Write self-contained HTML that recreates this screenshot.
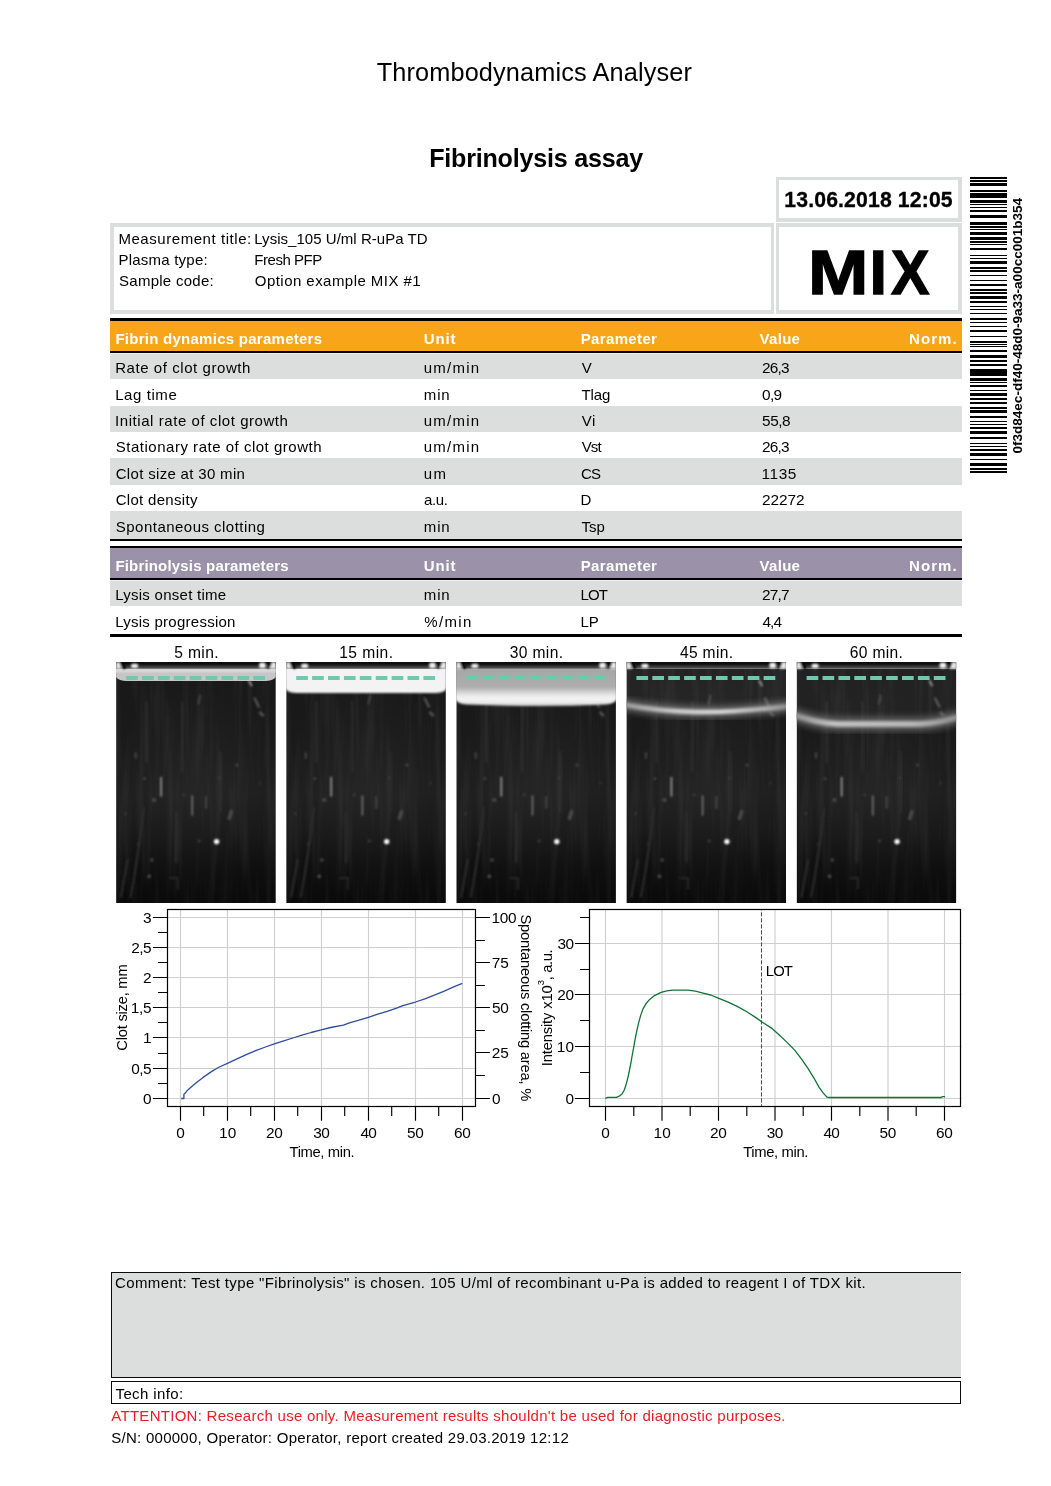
<!DOCTYPE html>
<html lang="en"><head><meta charset="utf-8"><title>Thrombodynamics Analyser - Fibrinolysis assay</title>
<style>
html,body{margin:0;padding:0;background:#fff;}
body{width:1051px;height:1486px;position:relative;overflow:hidden;font-family:"Liberation Sans", sans-serif;color:#000;}
.t{position:absolute;white-space:nowrap;line-height:1;}
.b{position:absolute;box-sizing:border-box;}
body>svg{position:absolute;left:0;top:0;}

</style></head><body>
<!-- header boxes -->
<div class="b" style="left:110px;top:223px;width:664px;height:91px;border:solid #dcdedd;border-width:4px 3px 4px 4px;"></div>
<div class="b" style="left:776px;top:177px;width:186px;height:45px;border:solid #dcdedd;border-width:3px 4px 4px 3px;"></div>
<div class="b" style="left:776px;top:223px;width:186px;height:91px;border:solid #dcdedd;border-width:4px 4px 4px 3px;"></div>
<!-- table 1 -->
<div class="b" style="left:110px;top:318px;width:852px;height:3px;background:#000;"></div>
<div class="b" style="left:110px;top:321px;width:852px;height:30px;background:#f9a51a;"></div>
<div class="b" style="left:110px;top:351px;width:852px;height:2px;background:#000;"></div>
<div class="b" style="left:110px;top:353px;width:852px;height:26px;background:#dcdedd;border-top:1px solid #edeeee;"></div>
<div class="b" style="left:110px;top:406px;width:852px;height:26px;background:#dcdedd;"></div>
<div class="b" style="left:110px;top:458px;width:852px;height:27px;background:#dcdedd;"></div>
<div class="b" style="left:110px;top:511px;width:852px;height:28px;background:#dcdedd;"></div>
<div class="b" style="left:110px;top:539px;width:852px;height:2px;background:#000;"></div>
<!-- table 2 -->
<div class="b" style="left:110px;top:546px;width:852px;height:2px;background:#000;"></div>
<div class="b" style="left:110px;top:548px;width:852px;height:30px;background:#9b91a9;"></div>
<div class="b" style="left:110px;top:578px;width:852px;height:2px;background:#000;"></div>
<div class="b" style="left:110px;top:580px;width:852px;height:26px;background:#dcdedd;border-top:1px solid #edeeee;"></div>
<div class="b" style="left:110px;top:634px;width:852px;height:3px;background:#000;"></div>
<!-- comment boxes -->
<div class="b" style="left:111px;top:1272px;width:850px;height:106px;border:solid #0a0a0a;border-width:1px 0 1px 1px;background:#dcdedd;"></div>
<div class="b" style="left:111px;top:1381px;width:850px;height:23px;border:1px solid #0a0a0a;background:#fff;"></div>
<!-- MIX label -->
<div class="t" style="left:0;top:241px;font-size:63px;font-weight:bold;-webkit-text-stroke:1.3px #000;"><span style="position:absolute;left:808.38px;top:0;transform-origin:0 0;transform:scaleX(1.15)">M</span><span style="position:absolute;left:869.48px;top:0">I</span><span style="position:absolute;left:890.89px;top:0;transform-origin:0 0;transform:scaleX(0.915)">X</span></div>

<svg width="1051" height="1486" viewBox="0 0 1051 1486" shape-rendering="crispEdges"><path d="M970 177h37v2h-37zM970 180h37v2h-37zM970 183h37v3h-37zM970 190h37v2h-37zM970 193h37v5h-37zM970 200h37v3h-37zM970 204h37v1h-37zM970 207h37v1h-37zM970 210h37v2h-37zM970 215h37v3h-37zM970 222h37v3h-37zM970 226h37v2h-37zM970 229h37v1h-37zM970 232h37v3h-37zM970 237h37v3h-37zM970 241h37v2h-37zM970 244h37v1h-37zM970 248h37v2h-37zM970 255h37v1h-37zM970 258h37v1h-37zM970 261h37v3h-37zM970 267h37v2h-37zM970 270h37v2h-37zM970 275h37v1h-37zM970 280h37v1h-37zM970 284h37v2h-37zM970 289h37v2h-37zM970 292h37v2h-37zM970 296h37v3h-37zM970 301h37v2h-37zM970 306h37v1h-37zM970 309h37v1h-37zM970 313h37v1h-37zM970 318h37v2h-37zM970 322h37v1h-37zM970 326h37v1h-37zM970 330h37v2h-37zM970 336h37v1h-37zM970 341h37v2h-37zM970 344h37v1h-37zM970 346h37v1h-37zM970 350h37v2h-37zM970 355h37v3h-37zM970 360h37v2h-37zM970 364h37v2h-37zM970 369h37v7h-37zM970 378h37v3h-37zM970 382h37v1h-37zM970 385h37v2h-37zM970 390h37v1h-37zM970 393h37v3h-37zM970 398h37v2h-37zM970 402h37v2h-37zM970 407h37v2h-37zM970 410h37v3h-37zM970 416h37v2h-37zM970 421h37v1h-37zM970 424h37v1h-37zM970 427h37v2h-37zM970 431h37v3h-37zM970 437h37v2h-37zM970 443h37v1h-37zM970 446h37v1h-37zM970 449h37v2h-37zM970 453h37v3h-37zM970 459h37v1h-37zM970 463h37v3h-37zM970 468h37v2h-37zM970 471h37v2h-37z" fill="#000"/></svg>

<svg width="1051" height="1486" viewBox="0 0 1051 1486">
<defs>
<linearGradient id="bg" x1="0" y1="0" x2="0" y2="1">
<stop offset="0" stop-color="#181818"/><stop offset="0.3" stop-color="#1a1a1a"/><stop offset="0.55" stop-color="#1e1e1e"/><stop offset="0.72" stop-color="#171717"/><stop offset="0.85" stop-color="#0f0f0f"/><stop offset="1" stop-color="#0a0a0a"/></linearGradient>
<radialGradient id="glow" cx="0.5" cy="0.52" r="0.5"><stop offset="0" stop-color="#fff" stop-opacity="0.035"/><stop offset="1" stop-color="#fff" stop-opacity="0"/></radialGradient>
<linearGradient id="strip" x1="0" y1="0" x2="0" y2="1"><stop offset="0" stop-color="#0a0a0a"/><stop offset="0.3" stop-color="#101010"/><stop offset="0.55" stop-color="#2e2e2e"/><stop offset="0.8" stop-color="#4a4a4a"/><stop offset="1" stop-color="#8c8c8c"/></linearGradient>
<linearGradient id="hb4" x1="0" y1="0" x2="1" y2="0"><stop offset="0" stop-color="#9a9a9a"/><stop offset="0.3" stop-color="#d0d0d0"/><stop offset="0.6" stop-color="#dedede"/><stop offset="0.85" stop-color="#b4b4b4"/><stop offset="1" stop-color="#8c8c8c"/></linearGradient>
<linearGradient id="hb5" x1="0" y1="0" x2="1" y2="0"><stop offset="0" stop-color="#8c8c8c"/><stop offset="0.25" stop-color="#c6c6c6"/><stop offset="0.7" stop-color="#bcbcbc"/><stop offset="1" stop-color="#8a8a8a"/></linearGradient>
<filter id="tex" x="0" y="0" width="100%" height="100%"><feTurbulence type="fractalNoise" baseFrequency="0.14 0.009" numOctaves="3" seed="11" result="n"/><feColorMatrix type="matrix" values="0 0 0 0 1  0 0 0 0 1  0 0 0 0 1  1.8 0 0 0 -0.72"/></filter>
<filter id="b05" x="-30%" y="-30%" width="160%" height="160%"><feGaussianBlur stdDeviation="0.9"/></filter>
<filter id="b07" x="-20%" y="-50%" width="140%" height="200%"><feGaussianBlur stdDeviation="0.75"/></filter>
<filter id="b1" x="-20%" y="-50%" width="140%" height="200%"><feGaussianBlur stdDeviation="1.2"/></filter>
<filter id="b1b" x="-20%" y="-100%" width="140%" height="300%"><feGaussianBlur stdDeviation="1.6"/></filter>
<filter id="b2" x="-20%" y="-50%" width="140%" height="200%"><feGaussianBlur stdDeviation="2.2"/></filter>
<filter id="b3" x="-20%" y="-100%" width="140%" height="300%"><feGaussianBlur stdDeviation="3.5"/></filter>
<linearGradient id="g3" x1="0" y1="0" x2="0" y2="1"><stop offset="0.2" stop-color="#a6a6a6"/><stop offset="0.6" stop-color="#aeaeae"/><stop offset="0.73" stop-color="#dcdcdc"/><stop offset="0.83" stop-color="#f4f4f4"/><stop offset="0.92" stop-color="#ececec"/><stop offset="1" stop-color="#c0c0c0"/></linearGradient>
<g id="common">
<rect x="0" y="0" width="160" height="241" fill="url(#bg)"/>
<rect x="0" y="0" width="160" height="241" fill="url(#glow)"/>
<rect x="0" y="0" width="160" height="241" fill="#fff" opacity="0.06" filter="url(#tex)"/>
<g fill="none" stroke-linecap="round" filter="url(#b05)">
<path d="M45 115.5v18.5" stroke="#a8a8a8" stroke-width="1.5"/>
<path d="M76.2 134v19" stroke="#808080" stroke-width="1.4"/>
<path d="M90 135v11M84 33.5l-1.5 8M19.5 91v5" stroke="#4a4a4a" stroke-width="1.8"/>
<path d="M133 19l2.4 4.5" stroke="#9a9a9a" stroke-width="1.8"/>
<path d="M138.6 36.5l4 8M143.8 50.5l3.2 3" stroke="#555" stroke-width="2.4"/>
<path d="M115.3 149.5l-2.2 7" stroke="#4c4c4c" stroke-width="3.4"/>
<path d="M27.5 146q-4 40 -13 89M11.3 198l-6.4 37M66 40v70M104 90v60M60 150v50M30 40v60" stroke="#2d2d2d" stroke-width="2"/>
<path d="M53.5 216h8v11" stroke="#2e2e2e" stroke-width="1.6"/>
</g>
<g filter="url(#b05)"><circle cx="38" cy="138" r="2.1" fill="#4c4c4c"/><circle cx="28.4" cy="116.4" r="1.5" fill="#444"/><circle cx="120.8" cy="103" r="1.5" fill="#484848"/><circle cx="103" cy="116" r="1.2" fill="#404040"/><circle cx="68" cy="133" r="1.3" fill="#404040"/><circle cx="83" cy="179" r="1.5" fill="#404040"/><circle cx="35.7" cy="198" r="1.7" fill="#4c4c4c"/><circle cx="33" cy="214.3" r="1.7" fill="#555"/><circle cx="9.2" cy="151.6" r="1.2" fill="#444"/><circle cx="22" cy="182" r="1.5" fill="#333"/><circle cx="144" cy="121" r="1.4" fill="#333"/></g>
<circle cx="100.5" cy="179.6" r="2.7" fill="#fff" filter="url(#b05)"/>
</g>
<g id="topstrip">
<rect x="0" y="0" width="160" height="7" fill="url(#strip)"/>
<g filter="url(#b05)">

<path d="M0 0h3.6l1.8 6.8h-5.4z" fill="#ededed"/><path d="M160 0h-5.5l-1.6 6.8h7.1z" fill="#ededed"/>
<rect x="15" y="1.8" width="7" height="4.2" rx="1.8" fill="#f4f4f4"/><rect x="143" y="0.6" width="6.6" height="5.6" rx="2" fill="#f0f0f0"/>
<path d="M4.5 0.5l4.5 6" stroke="#000" stroke-width="3"/><path d="M155 0.5l-3 6" stroke="#000" stroke-width="2.4"/>
</g>
</g>
<path id="dash" d="M10 15.9h140" stroke="#6ccaae" stroke-width="4" stroke-dasharray="11.7 4.2" fill="none"/>
</defs>
<svg x="116.1" y="662" width="159.6" height="241" viewBox="0 0 159.6 241" overflow="hidden"><use href="#common"/><path d="M-2 -3h163.6v11.5q-0.6 10.5 -12 10.5h-139.6q-11.4 0 -12 -10.5z" fill="#c6c6c6" filter="url(#b07)"/><rect x="-2" y="7" width="164" height="3" fill="#dcdcdc" filter="url(#b05)"/><use href="#topstrip"/><use href="#dash"/></svg>
<svg x="286.2" y="662" width="159.6" height="241" viewBox="0 0 159.6 241" overflow="hidden"><use href="#common"/><path d="M-2 -3h163.6v27q-1 7 -12 7h-139.6q-11 0 -12 -7z" fill="#f3f3f3" filter="url(#b1)"/><use href="#topstrip"/><use href="#dash"/></svg>
<svg x="456.3" y="662" width="159.6" height="241" viewBox="0 0 159.6 241" overflow="hidden"><use href="#common"/><path d="M-2 -3h163.6v38q-1 6.5 -12 7.6q-68 3 -139.6 0q-11 -1.1 -12 -7.6z" fill="url(#g3)" filter="url(#b1)"/><use href="#topstrip"/><use href="#dash"/></svg>
<svg x="626.4" y="662" width="159.6" height="241" viewBox="0 0 159.6 241" overflow="hidden"><use href="#common"/><rect x="-3" y="5" width="166" height="42" fill="#fff" opacity="0.05" filter="url(#b2)"/><path d="M-4 42.4C20 47 40 49.5 70 50S130 48.2 164 44" stroke="#8a8a8a" stroke-width="11" fill="none" filter="url(#b3)" opacity="0.7"/><path d="M-4 42.4C20 47 40 49.5 70 50S130 48.2 164 44" stroke="url(#hb4)" stroke-width="4.4" fill="none" filter="url(#b1b)"/><use href="#topstrip"/><use href="#dash"/></svg>
<svg x="796.6" y="662" width="159.6" height="241" viewBox="0 0 159.6 241" overflow="hidden"><use href="#common"/><rect x="-3" y="5" width="166" height="52" fill="#fff" opacity="0.04" filter="url(#b2)"/><path d="M-4 52.6C10 57 22 61.3 42 62L122 62C140 61.5 152 58.5 164 54" stroke="#808080" stroke-width="13" fill="none" filter="url(#b3)" opacity="0.7"/><path d="M-4 52.6C10 57 22 61.3 42 62L122 62C140 61.5 152 58.5 164 54" stroke="url(#hb5)" stroke-width="5.6" fill="none" filter="url(#b1b)"/><use href="#topstrip"/><use href="#dash"/></svg>
</svg>

<svg width="1051" height="1486" viewBox="0 0 1051 1486">
<path d="M180.5 909.5V1106.5M227.5 909.5V1106.5M274.5 909.5V1106.5M321.5 909.5V1106.5M368.5 909.5V1106.5M415.5 909.5V1106.5M462.5 909.5V1106.5M167.5 1098.5H476.7M167.5 1068.5H476.7M167.5 1037.5H476.7M167.5 1007.5H476.7M167.5 977.5H476.7M167.5 947.5H476.7M167.5 917.5H476.7" stroke="#cfcfcf" stroke-width="1.15" fill="none"/>
<path d="M152.9 1098.5H167.5M158.0 1083.5H167.5M152.9 1068.5H167.5M158.0 1053.5H167.5M152.9 1037.5H167.5M158.0 1022.5H167.5M152.9 1007.5H167.5M158.0 992.5H167.5M152.9 977.5H167.5M158.0 962.5H167.5M152.9 947.5H167.5M158.0 932.5H167.5M152.9 917.5H167.5M475.5 1098.5H489.9M475.5 1075.5H484.9M475.5 1052.5H489.9M475.5 1030.5H484.9M475.5 1007.5H489.9M475.5 985.5H484.9M475.5 962.5H489.9M475.5 940.5H484.9M475.5 917.5H489.9M180.5 1106.5V1120.8M203.7 1106.5V1115.9M227.5 1106.5V1120.8M250.7 1106.5V1115.9M274.5 1106.5V1120.8M297.7 1106.5V1115.9M321.5 1106.5V1120.8M344.7 1106.5V1115.9M368.5 1106.5V1120.8M391.7 1106.5V1115.9M415.5 1106.5V1120.8M438.7 1106.5V1115.9M462.5 1106.5V1120.8" stroke="#000" stroke-width="1.15" fill="none"/>
<rect x="167.5" y="909.5" width="308.0" height="197.0" fill="none" stroke="#000" stroke-width="1.2"/>
<polyline points="181.2,1098.5 183.9,1098.5 183.9,1094.4 185.0,1093.3 187.8,1089.9 193.2,1085.3 198.5,1080.9 203.1,1077.4 210.7,1072.1 218.3,1067.5 227.4,1063.4 236.5,1059.1 245.7,1054.9 256.3,1050.3 265.5,1047.0 274.3,1043.9 283.7,1040.9 294.4,1037.5 302.0,1035.2 311.1,1032.5 321.3,1029.9 330.7,1027.5 343.3,1025.2 349.5,1022.8 359.0,1020.2 368.4,1017.3 377.8,1014.2 387.2,1011.4 396.6,1008.2 402.9,1005.6 415.5,1002.0 424.9,998.8 434.3,995.1 443.7,991.4 453.1,987.2 462.3,983.3" fill="none" stroke="#2f4d9f" stroke-width="1.3" stroke-linejoin="round"/>
<path d="M605.5 909.5V1106.5M662.0 909.5V1106.5M718.5 909.5V1106.5M775.0 909.5V1106.5M831.5 909.5V1106.5M888.0 909.5V1106.5M944.5 909.5V1106.5M589.5 1098.5H961.7M589.5 1046.5H961.7M589.5 994.5H961.7M589.5 943.5H961.7" stroke="#cfcfcf" stroke-width="1.15" fill="none"/>
<path d="M574.9 1098.5H589.5M580.0 1072.5H589.5M574.9 1046.5H589.5M580.0 1020.5H589.5M574.9 994.5H589.5M580.0 969.5H589.5M574.9 943.5H589.5M580.0 917.5H589.5M605.5 1106.5V1120.8M633.8 1106.5V1115.9M662.0 1106.5V1120.8M690.2 1106.5V1115.9M718.5 1106.5V1120.8M746.8 1106.5V1115.9M775.0 1106.5V1120.8M803.2 1106.5V1115.9M831.5 1106.5V1120.8M859.8 1106.5V1115.9M888.0 1106.5V1120.8M916.2 1106.5V1115.9M944.5 1106.5V1120.8" stroke="#000" stroke-width="1.15" fill="none"/>
<path d="M761.5 909.5V1106.5" stroke="#4e4e4e" stroke-width="1.05" stroke-dasharray="4.4 1.6" stroke-dashoffset="3.3" fill="none"/>
<rect x="589.5" y="909.5" width="371.0" height="197.0" fill="none" stroke="#000" stroke-width="1.2"/>
<polyline points="605.4,1098.4 607.8,1097.4 616.4,1097.4 619.3,1096.1 622.1,1094.0 624.4,1089.8 626.5,1083.1 628.4,1075.5 630.3,1066.0 632.2,1055.5 634.1,1045.1 636.0,1034.6 638.3,1024.1 640.6,1015.6 643.0,1008.9 646.3,1003.2 649.7,999.4 654.5,995.6 661.1,992.4 666.8,990.8 672.5,990.1 687.8,990.1 695.4,991.2 703.0,993.1 710.6,995.0 718.2,998.1 727.7,1001.9 737.2,1006.4 746.8,1011.8 756.3,1017.9 761.6,1021.7 771.5,1028.1 777.6,1033.5 787.1,1042.4 794.7,1050.1 802.3,1060.1 808.1,1068.7 813.8,1077.8 819.1,1087.4 823.3,1093.1 827.1,1097.2 829.0,1097.5 941.3,1097.5 942.2,1096.6 944.5,1096.6 944.5,1097.5" fill="none" stroke="#0e7537" stroke-width="1.3" stroke-linejoin="round"/>
</svg>

<div class="t" style="left:376.70px;top:60.00px;font-size:25.3px;letter-spacing:0.133px;">Thrombodynamics Analyser</div>
<div class="t" style="left:429.20px;top:146.00px;font-size:25.1px;letter-spacing:-0.211px;font-weight:bold;">Fibrinolysis assay</div>
<div class="t" style="left:118.40px;top:231.00px;font-size:15px;letter-spacing:0.558px;">Measurement title:</div>
<div class="t" style="left:118.40px;top:252.00px;font-size:15px;letter-spacing:0.233px;">Plasma type:</div>
<div class="t" style="left:119.00px;top:273.00px;font-size:15px;letter-spacing:0.268px;">Sample code:</div>
<div class="t" style="left:254.30px;top:231.00px;font-size:15px;letter-spacing:0.032px;">Lysis_105 U/ml R-uPa TD</div>
<div class="t" style="left:254.30px;top:252.00px;font-size:15px;letter-spacing:-0.472px;">Fresh PFP</div>
<div class="t" style="left:254.80px;top:273.00px;font-size:15px;letter-spacing:0.455px;">Option example MIX #1</div>
<div class="t" style="left:784.35px;top:189.00px;font-size:21.2px;letter-spacing:0.145px;font-weight:bold;-webkit-text-stroke:0.3px #000;">13.06.2018 12:05</div>
<div class="t" style="left:115.40px;top:331.00px;font-size:15px;letter-spacing:0.263px;font-weight:bold;color:#fff;">Fibrin dynamics parameters</div>
<div class="t" style="left:423.80px;top:331.00px;font-size:15px;letter-spacing:0.879px;font-weight:bold;color:#fff;">Unit</div>
<div class="t" style="left:580.70px;top:331.00px;font-size:15px;letter-spacing:0.357px;font-weight:bold;color:#fff;">Parameter</div>
<div class="t" style="left:759.60px;top:331.00px;font-size:15px;letter-spacing:0.288px;font-weight:bold;color:#fff;">Value</div>
<div class="t" style="left:909.10px;top:331.00px;font-size:15px;letter-spacing:1.033px;font-weight:bold;color:#fff;">Norm.</div>
<div class="t" style="left:115.20px;top:360.00px;font-size:15px;letter-spacing:0.566px;">Rate of clot growth</div>
<div class="t" style="left:423.80px;top:360.00px;font-size:15px;letter-spacing:1.233px;">um/min</div>
<div class="t" style="left:581.70px;top:360.00px;font-size:15px;">V</div>
<div class="t" style="left:762.00px;top:360.00px;font-size:15.4px;letter-spacing:-0.803px;">26,3</div>
<div class="t" style="left:115.20px;top:387.00px;font-size:15px;letter-spacing:0.573px;">Lag time</div>
<div class="t" style="left:423.80px;top:387.00px;font-size:15px;letter-spacing:0.836px;">min</div>
<div class="t" style="left:581.40px;top:387.00px;font-size:15px;letter-spacing:-0.112px;">Tlag</div>
<div class="t" style="left:762.10px;top:387.00px;font-size:15.4px;letter-spacing:-0.772px;">0,9</div>
<div class="t" style="left:115.10px;top:413.00px;font-size:15px;letter-spacing:0.555px;">Initial rate of clot growth</div>
<div class="t" style="left:423.80px;top:413.00px;font-size:15px;letter-spacing:1.233px;">um/min</div>
<div class="t" style="left:581.70px;top:413.00px;font-size:15px;letter-spacing:0.466px;">Vi</div>
<div class="t" style="left:762.10px;top:413.00px;font-size:15.4px;letter-spacing:-0.503px;">55,8</div>
<div class="t" style="left:115.80px;top:439.00px;font-size:15px;letter-spacing:0.511px;">Stationary rate of clot growth</div>
<div class="t" style="left:423.80px;top:439.00px;font-size:15px;letter-spacing:1.233px;">um/min</div>
<div class="t" style="left:581.70px;top:439.00px;font-size:15px;letter-spacing:-0.900px;">Vst</div>
<div class="t" style="left:762.00px;top:439.00px;font-size:15.4px;letter-spacing:-0.803px;">26,3</div>
<div class="t" style="left:115.70px;top:466.00px;font-size:15px;letter-spacing:0.325px;">Clot size at 30 min</div>
<div class="t" style="left:423.80px;top:466.00px;font-size:15px;letter-spacing:1.350px;">um</div>
<div class="t" style="left:581.00px;top:466.00px;font-size:15px;letter-spacing:-0.900px;">CS</div>
<div class="t" style="left:761.60px;top:466.00px;font-size:15.4px;letter-spacing:0.550px;">1135</div>
<div class="t" style="left:115.70px;top:492.00px;font-size:15px;letter-spacing:0.303px;">Clot density</div>
<div class="t" style="left:424.10px;top:492.00px;font-size:15px;letter-spacing:-0.417px;">a.u.</div>
<div class="t" style="left:580.50px;top:492.00px;font-size:15px;">D</div>
<div class="t" style="left:762.00px;top:492.00px;font-size:15.4px;letter-spacing:-0.040px;">22272</div>
<div class="t" style="left:115.80px;top:519.00px;font-size:15px;letter-spacing:0.476px;">Spontaneous clotting</div>
<div class="t" style="left:423.80px;top:519.00px;font-size:15px;letter-spacing:0.836px;">min</div>
<div class="t" style="left:581.40px;top:519.00px;font-size:15px;letter-spacing:0.050px;">Tsp</div>
<div class="t" style="left:115.40px;top:558.00px;font-size:15px;letter-spacing:0.178px;font-weight:bold;color:#fff;">Fibrinolysis parameters</div>
<div class="t" style="left:423.80px;top:558.00px;font-size:15px;letter-spacing:0.879px;font-weight:bold;color:#fff;">Unit</div>
<div class="t" style="left:580.70px;top:558.00px;font-size:15px;letter-spacing:0.357px;font-weight:bold;color:#fff;">Parameter</div>
<div class="t" style="left:759.60px;top:558.00px;font-size:15px;letter-spacing:0.288px;font-weight:bold;color:#fff;">Value</div>
<div class="t" style="left:909.10px;top:558.00px;font-size:15px;letter-spacing:1.033px;font-weight:bold;color:#fff;">Norm.</div>
<div class="t" style="left:115.20px;top:587.00px;font-size:15px;letter-spacing:0.264px;">Lysis onset time</div>
<div class="t" style="left:423.80px;top:587.00px;font-size:15px;letter-spacing:0.836px;">min</div>
<div class="t" style="left:580.50px;top:587.00px;font-size:15px;letter-spacing:-0.900px;">LOT</div>
<div class="t" style="left:762.00px;top:587.00px;font-size:15.4px;letter-spacing:-0.769px;">27,7</div>
<div class="t" style="left:115.20px;top:614.00px;font-size:15px;letter-spacing:0.255px;">Lysis progression</div>
<div class="t" style="left:424.20px;top:614.00px;font-size:15px;letter-spacing:1.392px;">%/min</div>
<div class="t" style="left:580.50px;top:614.00px;font-size:15px;letter-spacing:-0.142px;">LP</div>
<div class="t" style="left:762.40px;top:614.00px;font-size:15.4px;letter-spacing:-0.924px;">4,4</div>
<div class="t" style="left:174.20px;top:645.00px;font-size:15.6px;letter-spacing:0.371px;">5 min.</div>
<div class="t" style="left:339.25px;top:645.00px;font-size:15.6px;letter-spacing:0.430px;">15 min.</div>
<div class="t" style="left:509.85px;top:645.00px;font-size:15.6px;letter-spacing:0.330px;">30 min.</div>
<div class="t" style="left:680.05px;top:645.00px;font-size:15.6px;letter-spacing:0.296px;">45 min.</div>
<div class="t" style="left:849.65px;top:645.00px;font-size:15.6px;letter-spacing:0.363px;">60 min.</div>
<div class="t" style="left:142.90px;top:1091.00px;font-size:15.4px;">0</div>
<div class="t" style="left:131.30px;top:1061.00px;font-size:15.4px;letter-spacing:-0.622px;">0,5</div>
<div class="t" style="left:143.00px;top:1030.00px;font-size:15.4px;">1</div>
<div class="t" style="left:130.80px;top:1000.00px;font-size:15.4px;letter-spacing:-0.372px;">1,5</div>
<div class="t" style="left:143.10px;top:970.00px;font-size:15.4px;">2</div>
<div class="t" style="left:131.20px;top:940.00px;font-size:15.4px;letter-spacing:-0.572px;">2,5</div>
<div class="t" style="left:143.00px;top:910.00px;font-size:15.4px;">3</div>
<div class="t" style="left:491.90px;top:1091.00px;font-size:15.4px;">0</div>
<div class="t" style="left:491.80px;top:1045.00px;font-size:15.4px;letter-spacing:-0.165px;">25</div>
<div class="t" style="left:491.90px;top:1000.00px;font-size:15.4px;letter-spacing:-0.265px;">50</div>
<div class="t" style="left:491.80px;top:955.00px;font-size:15.4px;letter-spacing:-0.165px;">75</div>
<div class="t" style="left:491.40px;top:910.00px;font-size:15.4px;letter-spacing:-0.215px;">100</div>
<div class="t" style="left:176.20px;top:1125.00px;font-size:15.4px;">0</div>
<div class="t" style="left:219.10px;top:1125.00px;font-size:15.4px;letter-spacing:0.135px;">10</div>
<div class="t" style="left:266.00px;top:1125.00px;font-size:15.4px;letter-spacing:-0.265px;">20</div>
<div class="t" style="left:313.20px;top:1125.00px;font-size:15.4px;letter-spacing:-0.465px;">30</div>
<div class="t" style="left:360.40px;top:1125.00px;font-size:15.4px;letter-spacing:-0.665px;">40</div>
<div class="t" style="left:407.10px;top:1125.00px;font-size:15.4px;letter-spacing:-0.365px;">50</div>
<div class="t" style="left:454.00px;top:1125.00px;font-size:15.4px;letter-spacing:-0.265px;">60</div>
<div class="t" style="left:289.55px;top:1145.00px;font-size:14.8px;letter-spacing:-0.379px;">Time, min.</div>
<div class="t" style="left:125.50px;top:1037.90px;font-size:14.8px;letter-spacing:-0.267px;transform-origin:0.70px 12.00px;transform:rotate(-90deg);">Clot size, mm</div>
<div class="t" style="left:520.10px;top:902.70px;font-size:14.8px;letter-spacing:-0.233px;transform-origin:0.60px 12.00px;transform:rotate(90deg);">Spontaneous clotting area, %</div>
<div class="t" style="left:565.60px;top:1091.00px;font-size:15.4px;">0</div>
<div class="t" style="left:556.80px;top:1039.00px;font-size:15.4px;letter-spacing:0.235px;">10</div>
<div class="t" style="left:557.20px;top:987.00px;font-size:15.4px;letter-spacing:-0.165px;">20</div>
<div class="t" style="left:557.40px;top:936.00px;font-size:15.4px;letter-spacing:-0.365px;">30</div>
<div class="t" style="left:601.20px;top:1125.00px;font-size:15.4px;">0</div>
<div class="t" style="left:653.60px;top:1125.00px;font-size:15.4px;letter-spacing:0.135px;">10</div>
<div class="t" style="left:710.00px;top:1125.00px;font-size:15.4px;letter-spacing:-0.265px;">20</div>
<div class="t" style="left:766.70px;top:1125.00px;font-size:15.4px;letter-spacing:-0.465px;">30</div>
<div class="t" style="left:823.40px;top:1125.00px;font-size:15.4px;letter-spacing:-0.665px;">40</div>
<div class="t" style="left:879.60px;top:1125.00px;font-size:15.4px;letter-spacing:-0.365px;">50</div>
<div class="t" style="left:936.00px;top:1125.00px;font-size:15.4px;letter-spacing:-0.265px;">60</div>
<div class="t" style="left:743.25px;top:1145.00px;font-size:14.8px;letter-spacing:-0.379px;">Time, min.</div>
<div class="t" style="left:765.80px;top:964.00px;font-size:14.8px;letter-spacing:-0.888px;">LOT</div>
<div class="t" style="left:550.50px;top:1053.40px;font-size:14.8px;letter-spacing:-0.172px;transform-origin:1.30px 12.00px;transform:rotate(-90deg);">Intensity x10</div>
<div class="t" style="left:544.40px;top:976.90px;font-size:9.5px;transform-origin:0.30px 8.00px;transform:rotate(-90deg);">3</div>
<div class="t" style="left:550.50px;top:966.60px;font-size:14.8px;letter-spacing:-0.380px;transform-origin:1.30px 12.00px;transform:rotate(-90deg);">, a.u.</div>
<div class="t" style="left:115.10px;top:1275.00px;font-size:15px;letter-spacing:0.355px;">Comment: Test type "Fibrinolysis" is chosen. 105 U/ml of recombinant u-Pa is added to reagent I of TDX kit.</div>
<div class="t" style="left:115.50px;top:1386.00px;font-size:15px;letter-spacing:0.385px;">Tech info:</div>
<div class="t" style="left:111.30px;top:1408.00px;font-size:15px;letter-spacing:0.282px;color:#ed1c24;">ATTENTION: Research use only. Measurement results shouldn't be used for diagnostic purposes.</div>
<div class="t" style="left:111.20px;top:1430.00px;font-size:15px;letter-spacing:0.274px;">S/N: 000000, Operator: Operator, report created 29.03.2019 12:12</div>
<div class="t" style="left:1020.60px;top:441.70px;font-size:13.6px;letter-spacing:-0.037px;font-weight:bold;transform-origin:0.50px 11.00px;transform:rotate(-90deg);">0f3d84ec-df40-48d0-9a33-a00cc001b354</div>
</body></html>
